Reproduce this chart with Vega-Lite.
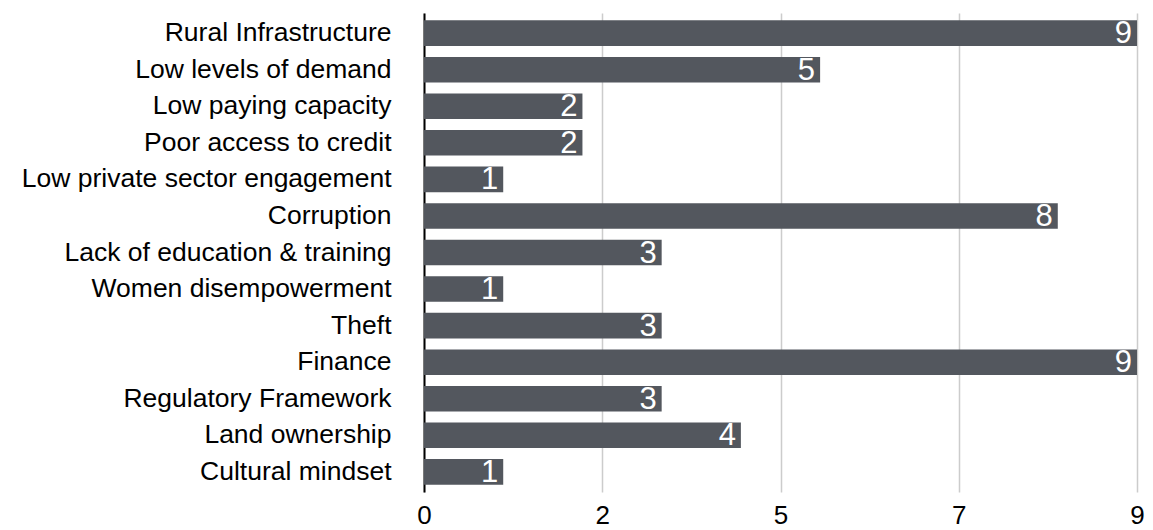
{
  "$schema": "https://vega.github.io/schema/vega-lite/v6.json",
  "autosize": "none",
  "width": 713,
  "height": 479,
  "padding": {"left": 424, "top": 13, "right": 16, "bottom": 38},
  "background": "white",
  "config": {"font": "Liberation Sans", "view": {"stroke": null}},
  "data": {"values": [
    {"category": "Rural Infrastructure\u2009", "value": 9},
    {"category": "Low levels of demand", "value": 5},
    {"category": "Low paying capacity", "value": 2},
    {"category": "Poor access to credit", "value": 2},
    {"category": "Low private sector engagement", "value": 1},
    {"category": "Corruption", "value": 8},
    {"category": "Lack of education & training", "value": 3},
    {"category": "Women disempowerment\u2009", "value": 1},
    {"category": "Theft", "value": 3},
    {"category": "Finance", "value": 9},
    {"category": "Regulatory Framework", "value": 3},
    {"category": "Land ownership", "value": 4},
    {"category": "Cultural mindset", "value": 1}
  ]},
  "encoding": {
    "y": {"field": "category", "type": "nominal", "sort": null, "title": null,
      "scale": {"paddingInner": 0.3, "paddingOuter": 0.2},
      "axis": {"ticks": false, "domain": true, "domainColor": "#000000", "domainWidth": 2,
        "labelFontSize": 26.5, "labelColor": "#000000", "labelPadding": 33, "labelLimit": 0}},
    "x": {"field": "value", "type": "quantitative", "title": null,
      "scale": {"domain": [0, 9], "nice": false, "zero": true},
      "axis": {"values": [0, 2.25, 4.5, 6.75, 9], "format": ".0f", "domain": false, "ticks": false,
        "grid": true, "gridColor": "#cccccc", "gridWidth": 1.5,
        "labelFontSize": 26, "labelColor": "#000000", "labelPadding": 10, "labelFlush": false}}
  },
  "layer": [
    {"mark": {"type": "bar", "color": "#53575e"}},
    {"mark": {"type": "text", "align": "right", "baseline": "middle", "dx": -5, "dy": 1, "color": "white", "fontSize": 31},
      "encoding": {"text": {"field": "value", "type": "quantitative"}}}
  ]
}
